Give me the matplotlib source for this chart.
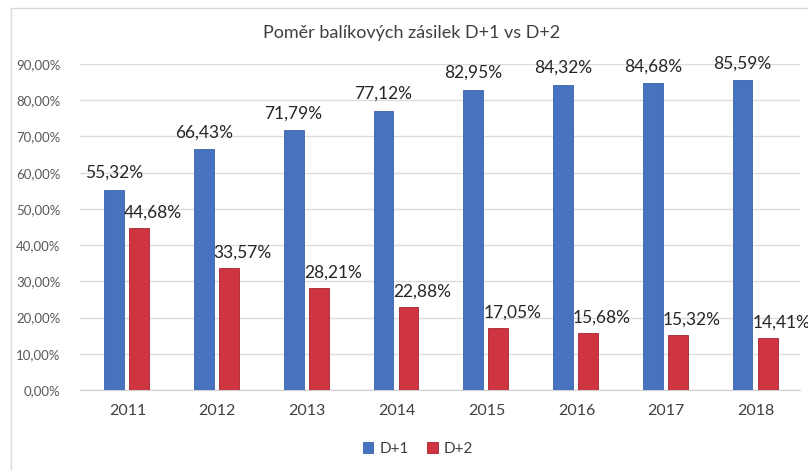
import numpy as np
import matplotlib
matplotlib.use('Agg')
from matplotlib import pyplot as plt
from matplotlib.patches import Rectangle

# data
years = ['2011', '2012', '2013', '2014', '2015', '2016', '2017', '2018']
d1 = [55.32, 66.43, 71.79, 77.12, 82.95, 84.32, 84.68, 85.59]
d2 = [44.68, 33.57, 28.21, 22.88, 17.05, 15.68, 15.32, 14.41]
yticks = [0, 10, 20, 30, 40, 50, 60, 70, 80, 90]

blue = '#4672c0'
red = '#cf3541'

plt.rcParams['font.family'] = ['Lato', 'DejaVu Sans']

fig = plt.figure(figsize=(8.08, 4.70), dpi=100)
ax = fig.add_axes([80/808, 1-390/470, 720/808, 326/470])

x = np.arange(len(years))
w = 0.22
b1 = ax.bar(x - 0.15, d1, w, color=blue, edgecolor='#3b64ad', linewidth=0.6, label='D+1', zorder=3)
b2 = ax.bar(x + 0.13, d2, w, color=red, edgecolor='#a8232f', linewidth=0.6, label='D+2', zorder=3)

def fmt(v):
    return ('%.2f%%' % v).replace('.', ',')

for xi, v in zip(x, d1):
    ax.annotate(fmt(v), (xi - 0.15, v), xytext=(0, 12), textcoords='offset points',
                ha='center', va='center', fontsize=12.5, color='#262626', annotation_clip=False)
for xi, v in zip(x, d2):
    ax.annotate(fmt(v), (xi + 0.13, v), xytext=(10, 11), textcoords='offset points',
                ha='center', va='center', fontsize=12.5, color='#262626', annotation_clip=False)

ax.set_xlim(-0.53, 7.49)
ax.set_ylim(0, 90)
ax.set_yticks(yticks)
ax.set_yticklabels([('%.2f%%' % t).replace('.', ',') for t in yticks], fontsize=9.5, color='#595959')
ax.set_xticks(x)
ax.set_xticklabels(years, fontsize=11.5, color='#404040')
ax.tick_params(length=0)
ax.tick_params(axis='y', pad=14)
ax.tick_params(axis='x', pad=10)
ax.grid(axis='y', color='#dcdcdc', linewidth=1, zorder=0)
for s in ['top', 'right', 'left']:
    ax.spines[s].set_visible(False)
ax.spines['bottom'].set_color('#d0d0d0')

fig.text(412/808, 1-33/470, 'Poměr balíkových zásilek D+1 vs D+2', ha='center', va='center',
         fontsize=13, color='#404040')

fig.legend(handles=[b1, b2], loc='center', bbox_to_anchor=(418/808, 1-449/470), ncol=2,
           frameon=False, fontsize=11, handlelength=0.7, handleheight=0.7, handletextpad=0.4,
           columnspacing=1.2, labelcolor='#404040')

fig.patches.append(Rectangle((11/808, -0.1), 1.2, 1.1 - 8/470, transform=fig.transFigure,
                             fill=False, edgecolor='#dadada', linewidth=1))

fig.savefig('out.png', dpi=100)
